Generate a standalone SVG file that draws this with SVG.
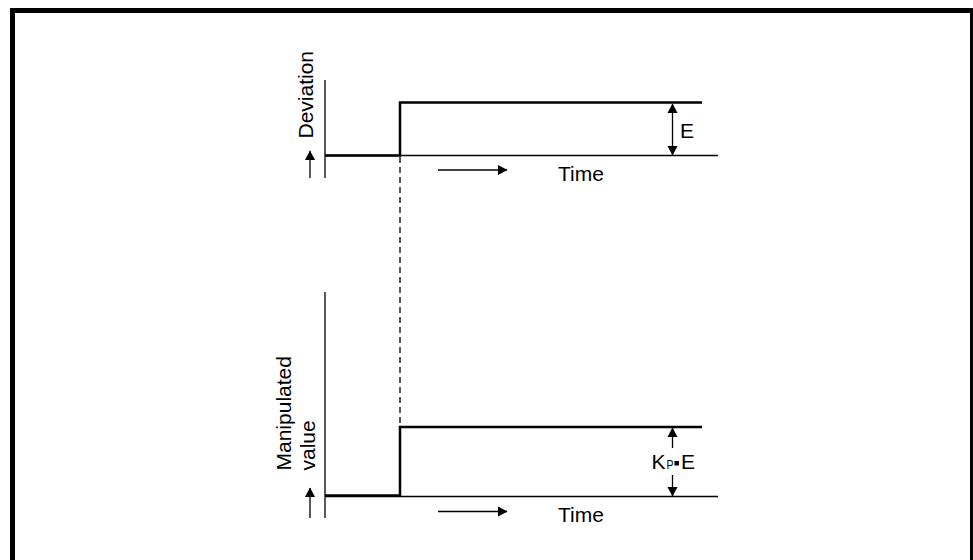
<svg xmlns="http://www.w3.org/2000/svg" width="973" height="560" viewBox="0 0 973 560">
<defs>
<marker id="ah" markerWidth="10" markerHeight="11" refX="9" refY="5.5" orient="auto-start-reverse" markerUnits="userSpaceOnUse">
<path d="M0,0.5 L9.5,5.5 L0,10.5 Z" fill="#000"/>
</marker>
<style>
.t{font-family:"Liberation Sans",Arial,sans-serif;font-size:21px;fill:#000}
.sub{font-family:"Liberation Sans",Arial,sans-serif;font-size:13px;fill:#000}
.thin{stroke:#000;stroke-width:1.3;fill:none}
.sig{stroke:#000;stroke-width:2.5;fill:none}
.arr{stroke:#000;stroke-width:1.3;fill:none;marker-end:url(#ah)}
.dbl{stroke:#000;stroke-width:1.3;fill:none;marker-start:url(#ah);marker-end:url(#ah)}
</style>
</defs>
<rect width="973" height="560" fill="#fff"/>
<g id="frame">
<path d="M12.5,560 V10.5 H973" stroke="#000" stroke-width="5" fill="none"/>
<line x1="971.5" y1="8" x2="971.5" y2="560" stroke="#000" stroke-width="3"/>
</g>
<g id="top-chart">
<line class="thin" x1="325" y1="80" x2="325" y2="178"/>
<line class="thin" x1="325" y1="155.5" x2="718" y2="155.5"/>
<polyline class="sig" points="325,155.5 400,155.5 400,102.5 702,102.5"/>
<text class="t" transform="translate(313,138.5) rotate(-90)">Deviation</text>
<line class="arr" x1="310" y1="178" x2="310" y2="151"/>
<line class="dbl" x1="672.5" y1="104" x2="672.5" y2="155"/>
<text class="t" x="680" y="138">E</text>
<line class="arr" x1="438" y1="170" x2="507" y2="170"/>
<text class="t" x="558" y="180.5">Time</text>
</g>
<g id="bottom-chart">
<line class="thin" x1="325" y1="292" x2="325" y2="518"/>
<line class="thin" x1="325" y1="496.5" x2="718" y2="496.5"/>
<polyline class="sig" points="325,495.5 400,495.5 400,427 702,427"/>
<text class="t" transform="translate(290.5,470.5) rotate(-90)">Manipulated</text>
<text class="t" transform="translate(315,470.5) rotate(-90)">value</text>
<line class="arr" x1="310" y1="518" x2="310" y2="488"/>
<line class="arr" x1="672.5" y1="448" x2="672.5" y2="428"/>
<line class="arr" x1="672.5" y1="475" x2="672.5" y2="496"/>
<text class="t" x="651.5" y="469">K</text>
<text class="sub" x="666.5" y="469" textLength="7" lengthAdjust="spacingAndGlyphs">P</text>
<rect x="674.5" y="461" width="4.5" height="4.5" fill="#000"/>
<text class="t" x="681" y="469">E</text>
<line class="arr" x1="438" y1="511.5" x2="507" y2="511.5"/>
<text class="t" x="558" y="522">Time</text>
</g>
<g id="connectors">
<line x1="400" y1="157" x2="400" y2="427" stroke="#000" stroke-width="1.3" stroke-dasharray="6,4"/>
</g>
</svg>
